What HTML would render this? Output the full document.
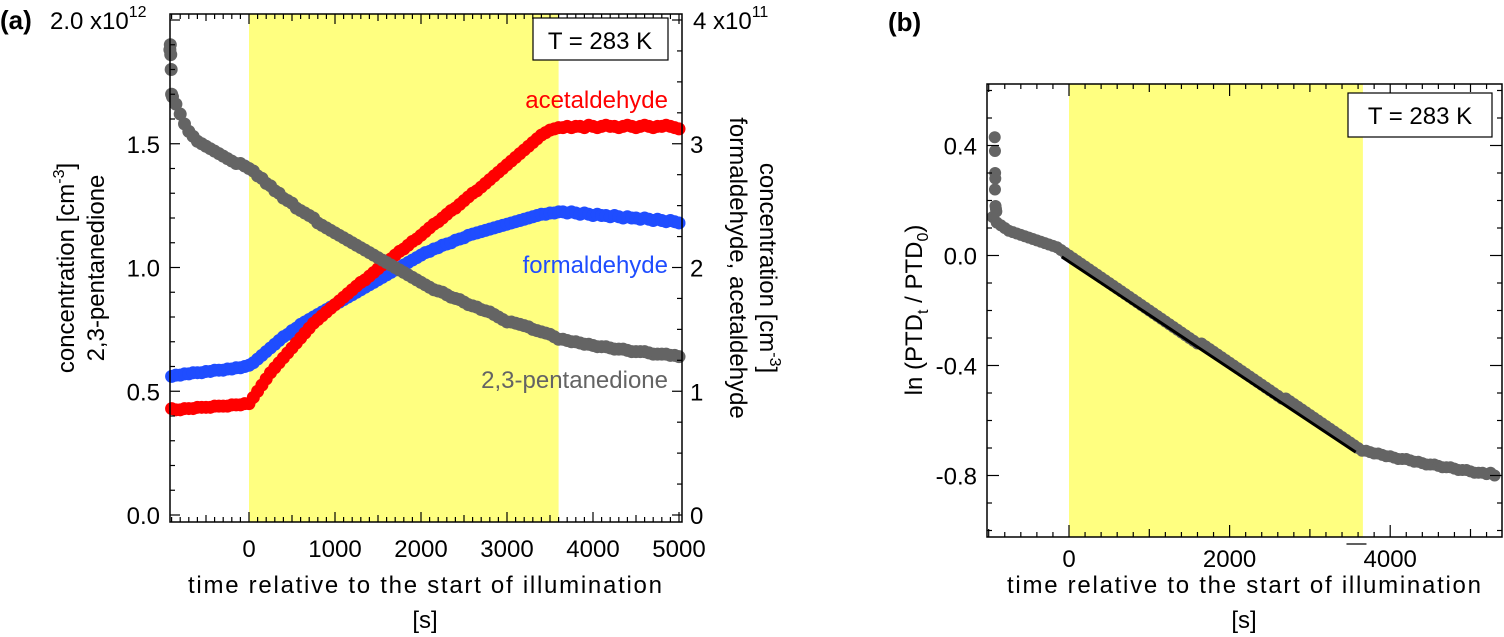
<!DOCTYPE html>
<html><head><meta charset="utf-8"><style>
html,body{margin:0;padding:0;background:#fff;}
svg{display:block;font-family:"Liberation Sans",sans-serif;}
</style></head><body>
<svg id="fig" width="1504" height="637" viewBox="0 0 1504 637"></svg>
<script>
function seq(start,step,n){const a=[];for(let i=0;i<n;i++)a.push(start+i*step);return a;}
// ---- panel (a) data ----
const timeGrayA = [-920,-915,-910,-905,-900,-890].concat(seq(-850,50,118));
const pentanedione = [1.88,1.90,1.86,1.80,1.70,1.69,
 1.66,1.62,1.58,1.55,1.53,1.51,
 1.50,1.49,1.48,1.47,1.46,1.45,1.44,1.43,1.42,1.42,1.41,1.40,
 1.39,1.37,1.36,1.34,1.33,1.31,1.30,1.28,1.27,1.26,1.24,1.23,1.22,1.21,1.20,1.18,1.17,1.16,1.15,1.14,
 1.13,1.12,1.11,1.10,1.09,1.08,1.07,1.06,1.05,1.04,1.03,1.02,1.01,1.00,0.99,0.98,0.97,0.96,0.95,0.94,
 0.93,0.92,0.91,0.905,0.90,0.89,0.88,0.875,0.87,0.86,0.85,0.845,0.84,0.83,0.825,0.82,0.81,0.80,0.79,0.78,
 0.78,0.775,0.77,0.765,0.76,0.75,0.745,0.74,0.735,0.73,0.72,0.71,
 0.71,0.705,0.70,0.70,0.695,0.69,0.69,0.685,0.68,0.68,0.68,0.675,0.67,0.67,0.67,0.665,0.66,0.66,0.66,0.66,0.655,0.65,0.65,0.65,0.65,0.645,0.645,0.64];
const timeAld = seq(-900,50,119);
const acetaldehyde = [0.86,0.85,0.85,0.86,0.86,0.86,0.87,0.87,0.87,0.87,0.88,0.88,0.88,0.88,0.89,0.89,0.89,0.90,0.90,
 0.95,1.00,1.05,1.10,1.15,1.19,1.23,1.27,1.31,1.35,1.39,1.43,1.47,1.51,1.55,1.58,1.61,1.64,1.67,1.70,
 1.73,1.76,1.79,1.82,1.85,1.88,1.90,1.93,1.96,1.99,2.02,2.04,2.07,2.10,2.13,2.15,2.18,2.21,2.23,2.26,
 2.29,2.32,2.35,2.37,2.40,2.43,2.46,2.48,2.51,2.54,2.57,2.60,2.62,2.65,2.68,2.71,2.74,2.77,2.80,2.83,
 2.86,2.89,2.92,2.95,2.98,3.01,3.04,3.07,3.09,3.11,3.12,3.13,
 3.13,3.14,3.13,3.14,3.14,3.13,3.15,3.14,3.13,3.14,3.15,3.14,3.14,3.13,3.14,3.15,3.14,3.13,3.14,3.15,3.14,3.13,3.14,3.14,3.15,3.14,3.13,3.12];
const formaldehyde = [1.12,1.13,1.13,1.14,1.14,1.15,1.15,1.15,1.16,1.16,1.17,1.17,1.17,1.18,1.18,1.19,1.19,1.20,1.21,
 1.23,1.26,1.29,1.32,1.35,1.38,1.41,1.44,1.46,1.49,1.51,1.54,1.56,1.58,1.60,1.62,1.64,1.66,1.68,1.70,
 1.72,1.74,1.76,1.78,1.80,1.82,1.84,1.86,1.88,1.90,1.92,1.94,1.96,1.98,2.00,2.02,2.04,2.06,2.08,2.10,
 2.12,2.13,2.15,2.16,2.18,2.19,2.20,2.22,2.23,2.24,2.26,2.27,2.28,2.29,2.30,2.31,2.32,2.33,2.34,2.35,
 2.36,2.37,2.38,2.39,2.40,2.41,2.42,2.43,2.43,2.44,2.44,2.45,
 2.45,2.44,2.45,2.44,2.43,2.44,2.43,2.42,2.43,2.42,2.42,2.41,2.42,2.41,2.40,2.41,2.40,2.40,2.39,2.40,2.39,2.38,2.39,2.38,2.37,2.38,2.37,2.36];
const xTicksA = [0,1000,2000,3000,4000,5000];
const yTicksLeftA = ["0.0","0.5","1.0","1.5"];
const yTicksRightA = [0,1,2,3];
// ---- panel (b) data ----
const timeB = [-925,-922,-920,-918,-922,-915,-910,-905].concat(seq(-950,50,126));
const lnPTD = [0.43,0.38,0.30,0.28,0.24,0.18,0.17,0.16,
 0.14,0.12,0.11,0.10,0.09,0.085,0.08,0.075,0.07,0.065,0.06,0.055,0.05,0.045,0.04,0.035,0.03,0.02,0.01,
 0.0,
 -0.01,-0.02,-0.03,-0.04,-0.05,-0.06,-0.07,-0.08,-0.09,-0.10,-0.11,-0.12,-0.13,-0.14,-0.15,-0.16,-0.17,-0.18,-0.19,-0.20,
 -0.21,-0.22,-0.23,-0.24,-0.25,-0.26,-0.27,-0.28,-0.29,-0.30,-0.31,-0.32,-0.32,-0.33,-0.34,-0.35,-0.36,-0.37,-0.38,-0.39,
 -0.40,-0.41,-0.42,-0.43,-0.44,-0.45,-0.46,-0.47,-0.48,-0.49,-0.50,-0.51,-0.52,-0.52,-0.53,-0.54,-0.55,-0.56,-0.57,-0.58,
 -0.59,-0.60,-0.61,-0.62,-0.63,-0.64,-0.65,-0.66,-0.67,-0.68,-0.69,-0.70,-0.71,
 -0.71,-0.715,-0.72,-0.72,-0.725,-0.73,-0.73,-0.735,-0.74,-0.74,-0.74,-0.745,-0.75,-0.75,-0.755,-0.76,-0.76,-0.76,-0.765,-0.77,-0.77,-0.77,-0.775,-0.78,-0.78,-0.78,-0.785,-0.79,-0.79,-0.79,-0.795,-0.79,-0.80];
const fitX = [-90,3570];
const fitY = [-0.005,-0.715];
const xTicksB = [0,2000,4000];
const yTicksB = [0.4,0.0,-0.4,-0.8];

const svg = document.getElementById('fig');
const NS = 'http://www.w3.org/2000/svg';
function mk(tag, attrs, parent){const e=document.createElementNS(NS,tag);for(const k in attrs)e.setAttribute(k,attrs[k]);(parent||svg).appendChild(e);return e;}

const A={l:170,r:682,t:14,b:522};
const axA=v=>249+v*0.086;
const ayL=v=>515-v*247.5;
const ayR=v=>515-v*123.75;
const B={l:987,r:1502,t:84,b:537};
const axB=v=>1069+v*0.0803;
const ayB=v=>255.5-v*275;

let y1=mk('rect',{x:axA(0),y:A.t,width:axA(3600)-axA(0),height:A.b-A.t,fill:'#ffff80'});


let y2=mk('rect',{x:axB(0),y:B.t,width:axB(3660)-axB(0),height:B.b-B.t,fill:'#ffff80'});



function dots(xs,ys,fx,fy,col,r,name){
  const g=mk('g',{fill:col});
  
  
  const n=Math.min(xs.length,ys.length);
  for(let i=0;i<n;i++){
    const c=mk('circle',{cx:fx(xs[i]),cy:fy(ys[i]),r:r},g);
    
    
  }
}
dots(timeAld,formaldehyde,axA,ayR,'#1f4dff',6.5,'formaldehyde-series');
dots(timeAld,acetaldehyde,axA,ayR,'#ff0000',6.5,'acetaldehyde-series');
dots(timeGrayA,pentanedione,axA,ayL,'#646464',6.5,'pentanedione-series');
dots(timeB,lnPTD,axB,ayB,'#646464',6,'ln-ptd-series');
const fit=mk('line',{x1:axB(fitX[0]),y1:ayB(fitY[0]),x2:axB(fitX[1]),y2:ayB(fitY[1]),stroke:'#000','stroke-width':3});



function frame(P,name){
  const f=mk('rect',{x:P.l,y:P.t,width:P.r-P.l,height:P.b-P.t,fill:'none',stroke:'#000','stroke-width':1.5});
  
  
}
frame(A,'plot-frame-a');frame(B,'plot-frame-b');

function tk(x1,y1,x2,y2){mk('line',{x1,y1,x2,y2,stroke:'#000','stroke-width':1.2});}
function txt(s,x,y,o){const t=mk('text',Object.assign({x,y,'font-size':24,fill:'#000'},o||{}));t.textContent=s;return t;}

for(let v=-900;v<=5000;v+=100){const x=axA(v);if(x<A.l||x>A.r)continue;const L=v%1000===0?10:(v%500===0?7:5);tk(x,A.b,x,A.b-L);tk(x,A.t,x,A.t+L);}
xTicksA.forEach(v=>{const t=txt(String(v),axA(v),557,{'text-anchor':'middle'});});
for(let v=0;v<=2.0001;v+=0.1){const y=ayL(v);const L=Math.round(v*10)%5===0?10:5;tk(A.l,y,A.l+L,y);}
yTicksLeftA.forEach(s=>{const t=txt(s,160,ayL(parseFloat(s))+9,{'text-anchor':'end'});});
for(let v=0;v<=4.0001;v+=0.25){const y=ayR(v);const L=Math.abs(v-Math.round(v))<0.01?10:5;tk(A.r,y,A.r-L,y);}
yTicksRightA.forEach(v=>{const t=txt(String(v),690,ayR(v)+9);});

for(let v=-1000;v<=5400;v+=200){const x=axB(v);if(x<B.l||x>B.r)continue;const L=v%2000===0?12:(v%1000===0?8:5);tk(x,B.b,x,B.b-L);tk(x,B.t,x,B.t+L);}
xTicksB.forEach(v=>{const t=txt(String(v),axB(v),567,{'text-anchor':'middle'});});
for(let k=-10;k<=6;k++){const v=k/10;const y=ayB(v);if(y<B.t||y>B.b)continue;const L=k%4===0?12:5;tk(B.l,y,B.l+L,y);tk(B.r,y,B.r-L,y);}
yTicksB.forEach(v=>{const t=txt(v.toFixed(1),977,ayB(v)+9,{'text-anchor':'end'});});
tk(axB(3580)-10,544,axB(3580)+10,544);
</script>
<svg width="1504" height="637" style="position:absolute;left:0;top:0">
<g font-family="Liberation Sans, sans-serif" font-size="24" fill="#000">
<text x="0" y="29" font-weight="bold" font-size="26">(a)</text>
<text x="888" y="31" font-weight="bold" font-size="26">(b)</text>
<text x="50" y="29">2.0 x10<tspan font-size="16" dy="-12">12</tspan></text>
<text x="693" y="29">4 x10<tspan font-size="16" dy="-12">11</tspan></text>
<rect x="533" y="18" width="135" height="42" fill="#fff" stroke="#000" stroke-width="1.2"/>
<text x="600" y="49" text-anchor="middle">T = 283 K</text>
<rect x="1348" y="93" width="144" height="44" fill="#fff" stroke="#000" stroke-width="1.2"/>
<text x="1420" y="124" text-anchor="middle">T = 283 K</text>
<text x="668" y="108" text-anchor="end" fill="#ff0000">acetaldehyde</text>
<text x="668" y="273" text-anchor="end" fill="#1f4dff">formaldehyde</text>
<text x="668" y="388" text-anchor="end" fill="#646464">2,3-pentanedione</text>
<text x="188" y="593" textLength="474">time relative to the start of illumination</text>
<text x="425" y="628" text-anchor="middle">[s]</text>
<text x="1007" y="593" textLength="474">time relative to the start of illumination</text>
<text x="1244" y="628" text-anchor="middle">[s]</text>
<g transform="translate(74,268) rotate(-90)">
<text x="0" y="0" text-anchor="middle">concentration [cm<tspan font-size="16" dy="-10">-3</tspan><tspan dy="10">]</tspan></text>
<text x="0" y="30" text-anchor="middle">2,3-pentanedione</text>
</g>
<g transform="translate(748,268) rotate(90)">
<text x="0" y="-12" text-anchor="middle">concentration [cm<tspan font-size="16" dy="-10">-3</tspan><tspan dy="10">]</tspan></text>
<text x="0" y="18" text-anchor="middle">formaldehyde, acetaldehyde</text>
</g>
<g transform="translate(922,310) rotate(-90)">
<text x="0" y="0" text-anchor="middle">ln (PTD<tspan font-size="16" dy="6">t</tspan><tspan dy="-6"> / PTD</tspan><tspan font-size="16" dy="6">0</tspan><tspan dy="-6">)</tspan></text>
</g>
</g>
</svg>
</body></html>
